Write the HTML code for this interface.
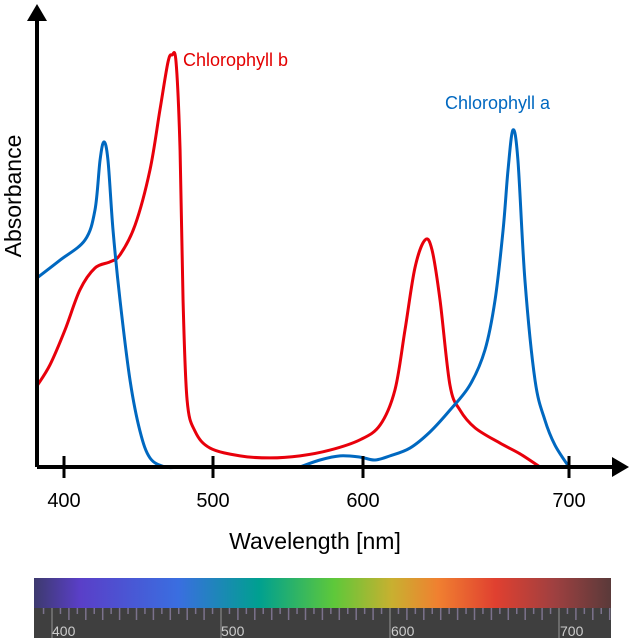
<!DOCTYPE html>
<html><head><meta charset="utf-8"><style>
html,body{margin:0;padding:0;background:#fff;}
svg{display:block;font-family:"Liberation Sans",sans-serif;}
</style></head><body>
<svg id="chart" width="631" height="640" viewBox="0 0 631 640">
<defs>
<linearGradient id="spec" x1="0" x2="1" y1="0" y2="0">
<stop offset="0" stop-color="#3d3a6e"/><stop offset="0.08" stop-color="#5a3fc8"/>
<stop offset="0.25" stop-color="#3a6ee0"/><stop offset="0.39" stop-color="#00a090"/>
<stop offset="0.52" stop-color="#5ec83a"/><stop offset="0.62" stop-color="#c8b030"/>
<stop offset="0.70" stop-color="#f08030"/><stop offset="0.80" stop-color="#e04030"/>
<stop offset="0.90" stop-color="#a04040"/><stop offset="1" stop-color="#5a3a3a"/>
</linearGradient>
</defs>
<g id="spectrum">
<rect x="34" y="578" width="577" height="32" fill="url(#spec)"/>
<rect x="34" y="608" width="577" height="30" fill="#3f3f3f"/>
<g id="specTicks"></g>
<text x="52" y="636" font-size="14" fill="#ccc">400</text>
<text x="221" y="636" font-size="14" fill="#ccc">500</text>
<text x="391" y="636" font-size="14" fill="#ccc">600</text>
<text x="560" y="636" font-size="14" fill="#ccc">700</text>
</g>
<g id="plot"></g>
<line x1="37" y1="467" x2="612" y2="467" stroke="#000" stroke-width="4"/>
<polygon points="612,457 629,467 612,477" fill="#000"/>
<line x1="37" y1="467" x2="37" y2="20" stroke="#000" stroke-width="4"/>
<polygon points="27,21 37,4 47,21" fill="#000"/>
<g id="ticks"></g>
<text x="315" y="549" font-size="23" text-anchor="middle">Wavelength [nm]</text>
<text transform="translate(21,196) rotate(-90)" font-size="23" text-anchor="middle">Absorbance</text>
<text x="183" y="66" font-size="18" fill="#e30000">Chlorophyll b</text>
<text x="445" y="109" font-size="18" fill="#0068c0">Chlorophyll a</text>
</svg>
<script>
const tickLabels=[400,500,600,700];
const redW=[381.9,390.6,400.7,410.7,420.8,430.9,437.6,447.7,457.7,464.4,469.8,472.5,475.2,477.9,479.9,482.6,487.9,498,518,538,558,578,598,608.3,615.5,620.4,625.2,630.1,633.5,637.4,642.2,647.1,654.4,666.5,676.2,685.9];
const redA=[19.7,24.8,33.3,43,48.3,49.8,51.5,58.7,72.1,86.7,98.3,100,98.3,76.9,40.5,16.3,8.7,4.6,2.7,2.2,2.7,4.1,6.6,10.2,18.7,33.3,48.3,55.1,52.7,40.5,19.9,13.8,9.5,5.8,3.2,0];
const blue1W=[381.9,397.3,414.1,420.8,424.2,426.8,429.5,432.9,437.6,444.3,451,457.7,467.8,477.9];
const blue1A=[45.9,50.2,55.1,62.4,74.5,78.9,74.5,57.5,40.5,21.1,8.7,2.2,0,0];
const blue2W=[558,571.3,584.7,598,605.8,613.1,622.8,632.5,642.2,651.9,659.2,664.1,668,670.4,672.8,675.2,678.6,683.5,688.3,693.2,700];
const blue2A=[0,1.7,2.7,2.4,1.7,2.7,4.6,8.5,13.8,19.9,28.4,40.5,57.5,72.1,81.8,74.5,45.4,21.1,11.4,5.3,0];
const NS='http://www.w3.org/2000/svg';
const knotW=[400,500,600,700], knotX=[64,213,363,569];
function xScale(w){
  let i=0; if(w>=knotW[2]) i=2; else if(w>=knotW[1]) i=1;
  return knotX[i]+(w-knotW[i])*(knotX[i+1]-knotX[i])/(knotW[i+1]-knotW[i]);
}
function yScale(a){return 467-a*4.12;}
function path(ws,as){
  const p=ws.map((w,i)=>[xScale(w),yScale(as[i])]);
  let d='M'+p[0][0]+','+p[0][1];
  for(let i=0;i<p.length-1;i++){
    const p0=p[Math.max(i-1,0)],p1=p[i],p2=p[i+1],p3=p[Math.min(i+2,p.length-1)];
    const c1=[p1[0]+(p2[0]-p0[0])/6,p1[1]+(p2[1]-p0[1])/6];
    const c2=[p2[0]-(p3[0]-p1[0])/6,p2[1]-(p3[1]-p1[1])/6];
    d+=' C'+c1.join(',')+' '+c2.join(',')+' '+p2.join(',');
  }
  return d;
}
const plot=document.getElementById('plot');
function addLine(ws,as,color,name){
  const e=document.createElementNS(NS,'path');
  e.setAttribute('d',path(ws,as));e.setAttribute('fill','none');
  e.setAttribute('stroke',color);e.setAttribute('stroke-width','3');
  
  
  plot.appendChild(e);
}
addLine(redW,redA,'#e8000b','chlorophyll-b-line');
addLine(blue1W,blue1A,'#0068c0','chlorophyll-a-line-blue-band');
addLine(blue2W,blue2A,'#0068c0','chlorophyll-a-line-red-band');
const tg=document.getElementById('ticks');
tickLabels.forEach(t=>{
  const x=xScale(t);
  const l=document.createElementNS(NS,'line');
  l.setAttribute('x1',x);l.setAttribute('x2',x);l.setAttribute('y1',456);l.setAttribute('y2',478);
  l.setAttribute('stroke','#000');l.setAttribute('stroke-width','3');
  
  
  tg.appendChild(l);
  const tx=document.createElementNS(NS,'text');
  tx.setAttribute('x',x);tx.setAttribute('y',507);tx.setAttribute('font-size','20');tx.setAttribute('text-anchor','middle');
  tx.textContent=t;
  
  
  tg.appendChild(tx);
});
const sg=document.getElementById('specTicks');
for(let w=395;w<=735;w+=5){
  const x=52+(w-400)*1.69; if(x<35||x>610) continue;
  const len=(w%100===0)?30:(w%10===0?12:6);
  const l=document.createElementNS(NS,'line');
  l.setAttribute('x1',x);l.setAttribute('x2',x);l.setAttribute('y1',608);l.setAttribute('y2',608+len);
  l.setAttribute('stroke',w%100===0?'#888':'#8a7fa0');l.setAttribute('stroke-width','1.5');l.setAttribute('opacity','0.8');
  
  
  sg.appendChild(l);
}
</script>
</body></html>
